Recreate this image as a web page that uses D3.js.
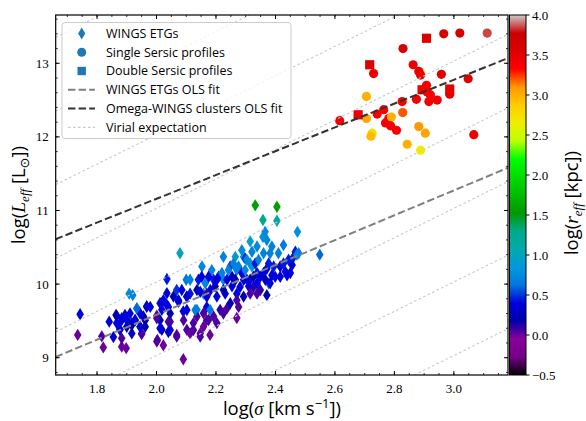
<!DOCTYPE html>
<html><head><meta charset="utf-8">
<script src="https://cdn.jsdelivr.net/npm/d3@7"></script>
<style>body{margin:0;background:#fff}svg{display:block}</style>
</head><body>
<svg id="c" width="586" height="421"></svg>
<script>
// ---- data ----
const xTicks = [1.8, 2.0, 2.2, 2.4, 2.6, 2.8, 3.0];
const yTicks = [9, 10, 11, 12, 13];
const cbTicks = [-0.5, 0.0, 0.5, 1.0, 1.5, 2.0, 2.5, 3.0, 3.5, 4.0];
// WINGS ETGs: [log sigma, log Leff, log reff]
const wingsETGs = [
[1.743,9.59,0.4],[1.735,9.31,0.0],[1.821,9.14,0.0],[1.816,9.29,0.05],[1.841,9.49,0.35],[1.855,9.28,0.35],
[1.864,9.58,0.2],[1.877,9.38,0.25],[1.883,9.15,0.0],[1.898,9.13,0.0],[1.894,9.58,0.4],[1.911,9.60,0.4],
[1.908,9.87,0.75],[1.92,9.85,0.7],[1.917,9.47,0.2],[1.917,9.33,0.3],[1.934,9.67,0.6],[1.945,9.42,0.2],
[1.95,9.32,0.05],[1.956,9.56,0.35],[1.967,9.70,0.45],[2.001,9.22,0.0],[2.023,9.17,0.0],[2.001,9.57,0.05],
[2.012,9.74,0.4],[2.018,9.38,0.3],[2.035,10.07,0.45],[2.04,9.69,0.4],[2.046,9.49,0.05],[2.04,9.35,0.3],
[2.068,9.92,0.5],[2.074,9.78,0.4],[2.068,9.31,0.0],[2.079,10.42,1.0],[2.09,8.98,0.0],[2.09,9.63,0.35],
[2.10,10.06,0.65],[2.102,9.38,0.05],[2.113,9.87,0.45],[2.124,9.47,0.05],[2.136,9.65,0.7],[2.141,10.06,0.45],
[2.153,10.24,0.7],[2.147,9.33,0.0],[2.158,9.87,0.85],[2.169,9.69,0.4],[2.169,9.51,0.05],[2.18,9.31,0.0],
[2.186,10.19,0.7],[2.18,9.65,0.65],[2.192,10.06,0.45],[2.203,9.47,0.05],[2.203,9.83,0.4],[2.214,9.65,0.1],
[2.225,10.06,0.75],[2.231,9.87,0.4],[2.237,9.67,0.05],[2.248,10.24,0.5],[2.254,10.10,0.25],[2.265,10.37,0.9],
[2.27,10.19,0.7],[2.276,9.69,0.05],[2.27,9.54,0.0],[2.281,9.96,0.4],[2.293,10.37,0.8],[2.298,10.35,0.5],
[2.304,10.06,0.4],[2.315,10.58,0.95],[2.315,10.28,0.75],[2.326,9.96,0.1],[2.332,11.07,1.55],[2.338,10.15,0.45],
[2.349,9.92,0.1],[2.358,10.87,1.25],[2.358,10.64,0.8],[2.365,10.71,0.75],[2.36,10.42,0.7],[2.371,10.21,0.4],
[2.377,10.01,0.65],[2.371,9.85,0.2],[2.388,10.51,0.7],[2.388,10.12,0.4],[2.405,11.05,1.55],[2.405,10.86,1.2],
[2.41,10.42,0.7],[2.416,10.24,0.4],[2.427,10.53,0.65],[2.433,10.17,0.4],[2.45,10.15,0.4],[2.456,10.26,0.4],
[2.467,10.44,0.45],[2.474,10.71,0.8],[2.478,10.42,0.65],[2.549,10.40,0.6],
[2.152,10.10,0.4],[2.164,10.01,0.7],[2.175,10.10,0.4],[2.181,9.92,0.4],[2.197,9.97,0.2],[2.209,10.10,0.4],
[2.220,10.15,0.7],[2.225,9.92,0.2],[2.237,10.06,0.4],[2.242,10.19,0.7],[2.254,9.97,0.4],[2.259,10.28,0.7],
[2.265,10.06,0.2],[2.270,9.87,0.4],[2.276,10.24,0.7],[2.287,10.15,0.4],[2.293,10.06,0.4],[2.298,10.19,0.7],
[2.304,10.33,0.75],[2.310,9.97,0.4],[2.315,10.06,0.4],[2.321,10.24,0.9],[2.326,10.10,0.2],[2.332,10.28,0.45],
[2.338,10.01,0.4],[2.343,10.33,0.7],[2.349,10.10,0.4],[2.360,10.15,0.4],[2.366,10.06,0.2],[2.377,10.28,0.45],
[2.382,10.01,0.4],[2.394,10.24,0.45],[2.399,10.10,0.4],[2.416,10.10,0.4],[2.427,10.28,0.45],[2.439,10.12,0.4],
[2.444,10.33,0.45],[2.461,10.37,0.45],[2.472,10.40,0.7],[2.371,10.60,0.75],[2.382,10.42,0.7],[2.338,10.51,0.75],
[2.321,10.44,0.7],[2.287,10.46,0.75],[2.225,10.37,0.7],[2.203,10.06,0.4],[2.169,9.87,0.05],[2.136,9.92,0.2],
[2.113,10.06,0.7],[2.102,9.83,0.4],[2.085,9.92,0.4],[2.057,9.83,0.2],[2.046,9.60,0.2],[2.023,9.78,0.4],
[2.012,9.51,0.2],[1.979,9.69,0.4],[1.962,9.42,0.2],[1.945,9.60,0.4],[1.928,9.51,0.2],[1.900,9.42,0.2],
[1.883,9.51,0.4],[1.866,9.47,0.4],[2.091,9.51,0.05],[2.113,9.33,0.0],[2.136,9.56,0.05],[2.158,9.42,0.0],
[2.192,9.56,0.05],[2.225,9.60,0.05],[2.248,9.74,0.2],[2.293,9.83,0.2],[2.315,9.87,0.05],[2.338,9.87,0.05],
[2.270,9.78,0.05],
[1.866,9.57,0.2],[1.883,9.535,0.4],[1.877,9.385,0.4],[1.883,9.263,0.05],[1.900,9.512,0.4],[1.917,9.444,0.2],
[1.928,9.512,0.4],[1.934,9.67,0.6],[1.950,9.331,0.05],[1.945,9.42,0.4],[1.962,9.51,0.2],[1.967,9.693,0.4],
[2.001,9.535,0.05],[2.003,9.24,0.05],[2.018,9.65,0.4],[2.012,9.40,0.4],[2.035,9.875,0.4],[2.035,9.716,0.4],
[2.040,9.49,0.05],[2.046,9.376,0.4],[2.074,9.76,0.4],[2.068,9.286,0.05],[2.102,9.83,0.4],[2.102,9.648,0.4],
[2.130,9.648,0.7],[2.124,9.376,0.05],[2.147,9.286,0.05],[2.147,9.897,0.4],[2.158,9.603,0.05],[2.175,9.512,0.05],
[2.169,9.829,0.4]
];
// Omega-WINGS clusters, single Sersic: [log sigma, log Leff, log reff]
const omegaSingle = [
[2.616,12.22,3.4],[2.706,12.55,3.0],[2.706,12.25,3.05],[2.725,12.05,2.75],[2.721,12.01,2.95],[2.730,12.86,3.45],
[2.742,12.31,3.4],[2.764,12.37,3.35],[2.770,12.19,3.4],[2.781,12.25,3.4],[2.790,12.27,3.0],[2.787,12.15,3.4],
[2.807,12.09,3.4],[2.826,12.48,3.4],[2.828,12.33,3.2],[2.829,13.20,3.65],[2.863,12.98,3.45],[2.874,12.51,3.45],
[2.886,12.88,2.7],[2.882,12.89,3.45],[2.888,12.84,3.45],[2.882,12.14,3.1],[2.888,11.82,2.65],[2.904,12.05,3.05],
[2.908,12.70,3.4],[2.916,12.48,3.4],[2.921,12.57,3.4],[2.944,12.50,3.4],[2.843,11.90,3.0],[2.958,12.85,3.55],
[2.966,13.40,3.65],[2.986,12.58,3.5],[3.020,13.41,3.65],[3.048,12.79,3.55],[3.067,12.03,3.45],[3.112,13.41,3.85],
[2.910,12.61,3.4]
];
// Omega-WINGS clusters, double Sersic
const omegaDouble = [
[2.678,12.30,3.45],[2.717,12.98,3.55],[2.893,12.64,3.4],[2.908,13.34,3.6],[2.986,12.65,3.5]
];
// OLS fits: [slope, intercept]
const wingsFit = [1.69, 6.203];
const omegaFit = [1.617, 7.925];
// virial expectation lines: log L = 2 log sigma + offset
const virialOffsets = [3.03, 4.03, 5.03, 6.03, 7.03, 8.03, 9.03, 10.03];

// ---- colormap (nipy_spectral) ----
const nipyStops = [0,0.05,0.1,0.15,0.2,0.25,0.3,0.35,0.4,0.45,0.5,0.55,0.6,0.65,0.7,0.75,0.8,0.85,0.9,0.95,1];
const nipyR = [0,.4667,.5333,0,0,0,0,0,0,0,0,0,0,.7333,.9333,1,1,1,.8667,.8,.8];
const nipyG = [0,0,0,0,0,.4667,.6,.6667,.6667,.6,.7333,.8667,1,1,.9333,.8,.6,0,0,0,.8];
const nipyB = [0,.5333,.6,.6667,.8667,.8667,.8667,.6667,.5333,0,0,0,0,0,0,0,0,0,0,0,.8];
const chR = d3.scaleLinear(nipyStops, nipyR).clamp(true);
const chG = d3.scaleLinear(nipyStops, nipyG).clamp(true);
const chB = d3.scaleLinear(nipyStops, nipyB).clamp(true);
const cNorm = d3.scaleLinear([-0.5, 4.0], [0, 1]).clamp(true);
function cmap(v){const t=cNorm(v);return d3.rgb(chR(t)*255,chG(t)*255,chB(t)*255).toString();}

// ---- layout ----
const svg = d3.select("#c");
const L = 55.7, R = 508, T = 15, B = 375;
const x = d3.scaleLinear([1.661, 3.182], [L, R]);
const y = d3.scaleLinear([8.765, 13.656], [B, T]);
const cb = d3.scaleLinear([-0.5, 4.0], [B, T]);

const defs = svg.append("defs");
defs.append("clipPath").attr("id","clip").append("rect").attr("x",L).attr("y",T).attr("width",R-L).attr("height",B-T);

const plot = svg.append("g").attr("clip-path","url(#clip)");

function diamond(w,h){return `M0,${-h}L${w},0L0,${h}L${-w},0Z`;}

plot.selectAll("path.etg").data(wingsETGs).join("path").attr("class","etg")
  .attr("d", diamond(3.8,6.2))
  .attr("transform", d=>`translate(${x(d[0])},${y(d[1])})`)
  .attr("fill", d=>cmap(d[2]));

plot.selectAll("circle.ss").data(omegaSingle).join("circle").attr("class","ss")
  .attr("cx", d=>x(d[0])).attr("cy", d=>y(d[1])).attr("r", 4.6)
  .attr("fill", d=>cmap(d[2]));

plot.selectAll("rect.ds").data(omegaDouble).join("rect").attr("class","ds")
  .attr("x", d=>x(d[0])-4.6).attr("y", d=>y(d[1])-4.6).attr("width",9.2).attr("height",9.2)
  .attr("fill", d=>cmap(d[2]));

const xd = x.domain();
const lineGen = d3.line().x(d=>x(d[0])).y(d=>y(d[1]));
virialOffsets.forEach(c=>{
  plot.append("path").attr("d", lineGen([[xd[0],2*xd[0]+c],[xd[1],2*xd[1]+c]]))
    .attr("stroke","#c8c8c8").attr("stroke-width",1.1).attr("stroke-dasharray","2.5,2.5").attr("fill","none");
});
plot.append("path").attr("d", lineGen(xd.map(s=>[s, wingsFit[0]*s+wingsFit[1]])))
  .attr("stroke","#808080").attr("stroke-width",2).attr("stroke-dasharray","7.4,3.2").attr("fill","none");
plot.append("path").attr("d", lineGen(xd.map(s=>[s, omegaFit[0]*s+omegaFit[1]])))
  .attr("stroke","#333333").attr("stroke-width",2).attr("stroke-dasharray","7.4,3.2").attr("fill","none");

// ---- axes frame and ticks ----
const ax = svg.append("g");
const serif = "'Liberation Serif', serif";
const xMinor = d3.range(1.70, 3.18, 0.05);
const yMinor = d3.range(8.8, 13.66, 0.2);
xMinor.forEach(v=>{
  const px = x(v);
  ax.append("line").attr("x1",px).attr("x2",px).attr("y1",B).attr("y2",B-2).attr("stroke","#000").attr("stroke-width",0.8);
  ax.append("line").attr("x1",px).attr("x2",px).attr("y1",T).attr("y2",T+2).attr("stroke","#000").attr("stroke-width",0.8);
});
yMinor.forEach(v=>{
  const py = y(v);
  ax.append("line").attr("y1",py).attr("y2",py).attr("x1",L).attr("x2",L+2).attr("stroke","#000").attr("stroke-width",0.8);
  ax.append("line").attr("y1",py).attr("y2",py).attr("x1",R).attr("x2",R-2).attr("stroke","#000").attr("stroke-width",0.8);
});
xTicks.forEach(v=>{
  const px = x(v);
  ax.append("line").attr("x1",px).attr("x2",px).attr("y1",B).attr("y2",B-4).attr("stroke","#000");
  ax.append("line").attr("x1",px).attr("x2",px).attr("y1",T).attr("y2",T+4).attr("stroke","#000");
  ax.append("text").attr("x",px).attr("y",B+18).attr("text-anchor","middle")
    .attr("font-family",serif).attr("font-size",13).text(v.toFixed(1));
});
yTicks.forEach(v=>{
  const py = y(v);
  ax.append("line").attr("y1",py).attr("y2",py).attr("x1",L).attr("x2",L+4).attr("stroke","#000");
  ax.append("line").attr("y1",py).attr("y2",py).attr("x1",R).attr("x2",R-4).attr("stroke","#000");
  ax.append("text").attr("x",L-7).attr("y",py+4.5).attr("text-anchor","end")
    .attr("font-family",serif).attr("font-size",13).text(v);
});
ax.append("rect").attr("x",L).attr("y",T).attr("width",R-L).attr("height",B-T)
  .attr("fill","none").attr("stroke","#000").attr("stroke-width",1.2);

// ---- colorbar ----
const cbx = 509.5, cbw = 16.5;
const grad = defs.append("linearGradient").attr("id","cbg").attr("x1",0).attr("x2",0).attr("y1",1).attr("y2",0);
d3.range(0, 1.0001, 0.01).forEach(t=>{
  grad.append("stop").attr("offset",t).attr("stop-color",cmap(-0.5+4.5*t));
});
svg.append("rect").attr("x",cbx).attr("y",T).attr("width",cbw).attr("height",B-T).attr("fill","url(#cbg)");
svg.append("rect").attr("x",cbx).attr("y",T).attr("width",cbw).attr("height",B-T).attr("fill","none").attr("stroke","#000").attr("stroke-width",1);
cbTicks.forEach(v=>{
  const py = cb(v);
  svg.append("line").attr("x1",cbx+cbw).attr("x2",cbx+cbw+3.5).attr("y1",py).attr("y2",py).attr("stroke","#000");
  svg.append("text").attr("x",cbx+cbw+6).attr("y",py+4.5).attr("font-family",serif).attr("font-size",13)
    .text(v<0 ? "\u2212"+Math.abs(v).toFixed(1) : v.toFixed(1));
});

// ---- axis labels ----
const sans = "'Open Sans', 'DejaVu Sans', sans-serif";
const xl = svg.append("text").attr("x",282).attr("y",415).attr("text-anchor","middle").attr("font-family",sans).attr("font-size",18.5);
xl.append("tspan").text("log(");
xl.append("tspan").attr("font-family",serif).attr("font-style","italic").text("\u03c3");
xl.append("tspan").text(" [km s");
xl.append("tspan").attr("dy",-7).attr("font-size",13).text("\u22121");
xl.append("tspan").attr("dy",7).text("])");

const yl = svg.append("text").attr("transform","translate(25,195) rotate(-90)").attr("text-anchor","middle").attr("font-family",sans).attr("font-size",18.5);
yl.append("tspan").text("log(");
yl.append("tspan").attr("font-family",serif).attr("font-style","italic").attr("font-size",19.5).text("L");
yl.append("tspan").attr("font-family",serif).attr("font-style","italic").attr("font-size",13).attr("dy",4).text("eff");
yl.append("tspan").attr("dy",-4).text(" [L");
yl.append("tspan").attr("font-size",13).attr("dy",4).text("\u2299");
yl.append("tspan").attr("dy",-4).text("])");

const cl = svg.append("text").attr("transform","translate(578,203) rotate(-90)").attr("text-anchor","middle").attr("font-family",sans).attr("font-size",18.5);
cl.append("tspan").text("log(");
cl.append("tspan").attr("font-family",serif).attr("font-style","italic").attr("font-size",19.5).text("r");
cl.append("tspan").attr("font-family",serif).attr("font-style","italic").attr("font-size",13).attr("dy",4).text("eff");
cl.append("tspan").attr("dy",-4).text(" [kpc])");

// ---- legend ----
const lg = svg.append("g");
lg.append("rect").attr("x",62).attr("y",22.5).attr("width",229).attr("height",116).attr("rx",3)
  .attr("fill","#fff").attr("fill-opacity",0.8).attr("stroke","#cccccc").attr("stroke-width",1);
const rows = [33.5, 52.3, 71, 89.8, 108.6, 127.4];
const legendLabels = ["WINGS ETGs","Single Sersic profiles","Double Sersic profiles","WINGS ETGs OLS fit","Omega-WINGS clusters OLS fit","Virial expectation"];
const blue = "#1f77b4";
lg.append("path").attr("d",diamond(3.6,6)).attr("transform",`translate(81.7,${rows[0]})`).attr("fill",blue);
lg.append("circle").attr("cx",81.7).attr("cy",rows[1]).attr("r",4.5).attr("fill",blue);
lg.append("rect").attr("x",77.5).attr("y",rows[2]-4.2).attr("width",8.4).attr("height",8.4).attr("fill",blue);
lg.append("line").attr("x1",68).attr("x2",95).attr("y1",rows[3]).attr("y2",rows[3]).attr("stroke","#808080").attr("stroke-width",2).attr("stroke-dasharray","7.4,3.2");
lg.append("line").attr("x1",68).attr("x2",95).attr("y1",rows[4]).attr("y2",rows[4]).attr("stroke","#333").attr("stroke-width",2).attr("stroke-dasharray","7.4,3.2");
lg.append("line").attr("x1",68).attr("x2",95).attr("y1",rows[5]).attr("y2",rows[5]).attr("stroke","#c8c8c8").attr("stroke-width",1.1).attr("stroke-dasharray","2.5,2.5");
legendLabels.forEach((t,i)=>{
  lg.append("text").attr("x",106).attr("y",rows[i]+4.4).attr("font-family",sans).attr("font-size",12.5).text(t);
});
</script>
</body></html>
